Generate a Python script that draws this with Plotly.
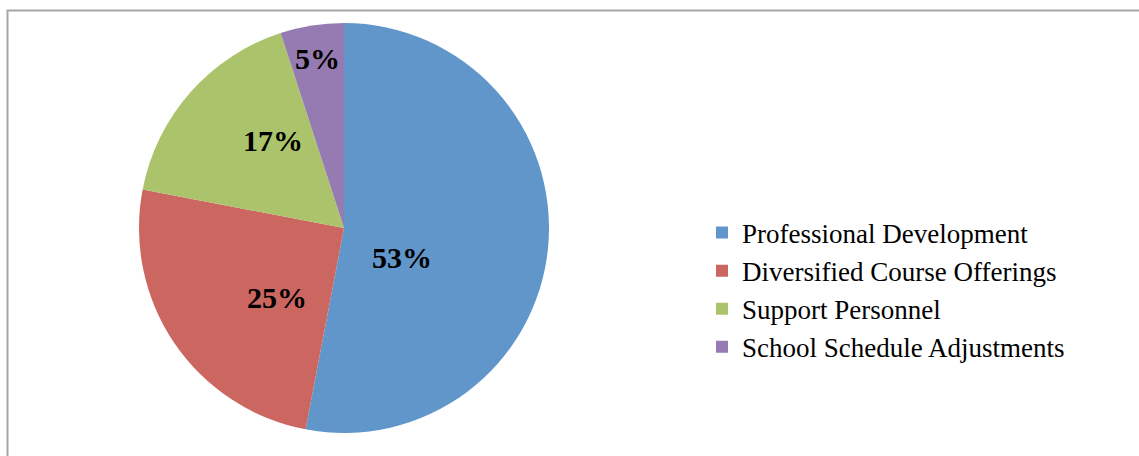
import math
import plotly.graph_objects as go

# Share of funding by category
categories = ["Professional Development", "Diversified Course Offerings",
              "Support Personnel", "School Schedule Adjustments"]
shares = [53, 25, 17, 5]
slice_colors = ["#6096CA", "#CC6660", "#ABC46B", "#957BB1"]

W, H = 1139, 456
# pie placement in pixels (centre and radius)
CX, CY, R = 344, 228, 205
# value label anchors: (fraction of radius, clockwise angle from 12 o'clock)
label_polar = [(0.32, 117), (0.47, 224), (0.55, 321), (0.835, 351)]

fig = go.Figure(go.Pie(
    labels=categories,
    values=shares,
    sort=False,
    direction="clockwise",
    rotation=0,
    marker=dict(colors=slice_colors, line=dict(width=0)),
    textinfo="none",
    domain=dict(x=[(CX - R) / W, (CX + R) / W],
                y=[1 - (CY + R) / H, 1 - (CY - R) / H]),
    hoverinfo="label+percent",
))

annotations = []
for v, (frac, ang) in zip(shares, label_polar):
    a = math.radians(ang)
    px = CX + frac * R * math.sin(a)
    py = CY - frac * R * math.cos(a)
    annotations.append(dict(
        x=px / W, y=1 - py / H, xref="paper", yref="paper",
        text=f"<b>{v}%</b>", showarrow=False,
        xanchor="center", yanchor="middle",
        font=dict(family="Liberation Serif", size=30, color="#000000"),
    ))

fig.update_layout(
    width=W, height=H,
    margin=dict(l=0, r=0, t=0, b=0),
    paper_bgcolor="white",
    plot_bgcolor="white",
    showlegend=True,
    legend=dict(
        x=702 / W, y=1 - 290 / H, xanchor="left", yanchor="middle",
        font=dict(family="Liberation Serif", size=27, color="#000000"),
        bgcolor="rgba(0,0,0,0)",
    ),
    annotations=annotations,
    shapes=[dict(
        type="rect", xref="paper", yref="paper",
        x0=7.5 / W, x1=1.01, y0=-0.05, y1=1 - 10.5 / H,
        line=dict(color="#A6A6A6", width=2),
        fillcolor="rgba(0,0,0,0)", layer="below",
    )],
)

fig.write_html("out.html")
